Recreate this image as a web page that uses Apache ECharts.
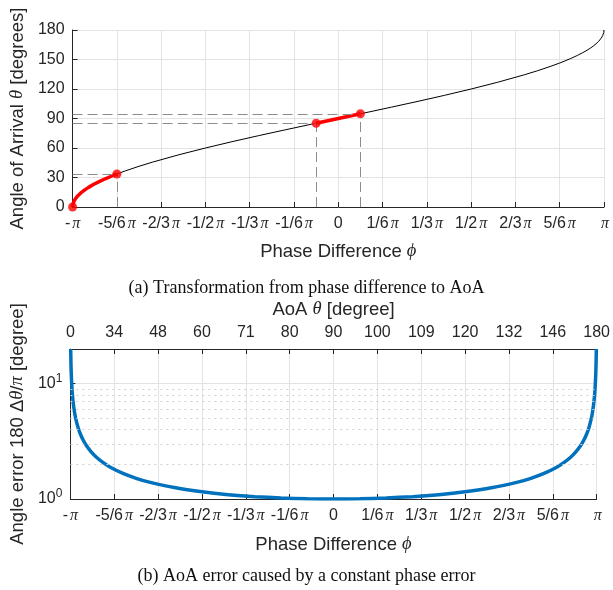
<!DOCTYPE html>
<html>
<head>
<meta charset="utf-8">
<script src="https://cdn.jsdelivr.net/npm/echarts@6/dist/echarts.min.js"></script>
<style>html,body{margin:0;padding:0;background:#fff}#c{width:613px;height:590px}</style>
</head>
<body>
<div id="c"></div>
<script>
// Phase difference samples, in units of pi
const phiOverPi = [-1, -0.999, -0.995, -0.99, -0.98, -0.97, -0.96, -0.95, -0.94, -0.92, -0.9, -0.875, -0.85, -0.8333, -0.8, -0.75, -0.7, -0.6, -0.5, -0.4, -0.3, -0.2, -0.1, 0, 0.1, 0.2, 0.3, 0.4, 0.5, 0.6, 0.7, 0.75, 0.8, 0.8333, 0.85, 0.875, 0.9, 0.92, 0.94, 0.95, 0.96, 0.97, 0.98, 0.99, 0.995, 0.999, 1];
// Angle of arrival (degrees)
const aoaDeg = [0, 2.56, 5.73, 8.11, 11.48, 14.07, 16.26, 18.19, 19.95, 23.07, 25.84, 28.96, 31.79, 33.56, 36.87, 41.41, 45.57, 53.13, 60, 66.42, 72.54, 78.46, 84.26, 90, 95.74, 101.54, 107.46, 113.58, 120, 126.87, 134.43, 138.59, 143.13, 146.44, 148.21, 151.04, 154.16, 156.93, 160.05, 161.81, 163.74, 165.93, 168.52, 171.89, 174.27, 177.44, 180];
// Red highlighted segments in panel (a)
const redLeftPhi = [-1, -0.999, -0.995, -0.99, -0.98, -0.97, -0.96, -0.95, -0.94, -0.92, -0.9, -0.875, -0.85, -0.8333];
const redLeftAoa = [0, 2.56, 5.73, 8.11, 11.48, 14.07, 16.26, 18.19, 19.95, 23.07, 25.84, 28.96, 31.79, 33.56];
const redMidPhi = [-0.0833, 0.0833];
const redMidAoa = [85.22, 94.78];
// Panel (b): error samples
const errPhi = [-0.99875, -0.998, -0.997, -0.995, -0.993, -0.99, -0.985, -0.98, -0.97, -0.96, -0.95, -0.94, -0.92, -0.9, -0.875, -0.85, -0.8, -0.75, -0.7, -0.6, -0.5, -0.4, -0.3, -0.2, -0.1, 0, 0.1, 0.2, 0.3, 0.4, 0.5, 0.6, 0.7, 0.75, 0.8, 0.85, 0.875, 0.9, 0.92, 0.94, 0.95, 0.96, 0.97, 0.98, 0.985, 0.99, 0.993, 0.995, 0.997, 0.998, 0.99875];
const errVal = [20, 15.82, 12.92, 10.01, 8.47, 7.09, 5.80, 5.03, 4.11, 3.57, 3.20, 2.93, 2.55, 2.29, 2.066, 1.898, 1.667, 1.512, 1.400, 1.25, 1.155, 1.091, 1.048, 1.021, 1.005, 1, 1.005, 1.021, 1.048, 1.091, 1.155, 1.25, 1.400, 1.512, 1.667, 1.898, 2.066, 2.29, 2.55, 2.93, 3.20, 3.57, 4.11, 5.03, 5.80, 7.09, 8.47, 10.01, 12.92, 15.82, 20];
// Tick labels
const phaseTickNum = ['-', '-5/6', '-2/3', '-1/2', '-1/3', '-1/6', '0', '1/6', '1/3', '1/2', '2/3', '5/6', ''];
const aoaTickLabels = ['0', '34', '48', '60', '71', '80', '90', '100', '109', '120', '132', '146', '180'];
const minorGrid = [2, 3, 4, 5, 6, 7, 8, 9];

const SANS = '"Liberation Sans", Arial, sans-serif';
const SERIF = '"Liberation Serif", "DejaVu Serif", serif';
const AX = '#262626';
const GRID = '#e3e3e3';
const TF = 16;   // tick font
const NF = 18.5; // axis-name font
const toX = p => p * 6; // axis in units of pi/6

const pairs = (xs, ys) => xs.map((p, i) => [toX(p), ys[i]]);

const phaseFmt = v => {
  const i = Math.round(v) + 6;
  const n = phaseTickNum[i];
  if (n === '0') return '{n|0}';
  if (n === '') return '{p|π}';
  if (n === '-') return '{n|-}{p|π}';
  return '{n|' + n + '}{p|π}';
};
const tickRich = {
  n: { fontFamily: SANS, fontSize: TF, color: AX },
  p: { fontFamily: SERIF, fontStyle: 'italic', fontSize: TF, color: AX, padding: [0, 0, 0, 2] }
};
const nameRich = {
  t: { fontFamily: SANS, fontSize: NF, color: AX },
  g: { fontFamily: SERIF, fontStyle: 'italic', fontSize: NF, color: AX }
};

const redPts = [[redLeftPhi[0], redLeftAoa[0]], [redLeftPhi[redLeftPhi.length - 1], redLeftAoa[redLeftAoa.length - 1]], [redMidPhi[0], redMidAoa[0]], [redMidPhi[1], redMidAoa[1]]];
const guideLines = [];
redPts.slice(1).forEach(([p, a]) => {
  guideLines.push([{ coord: [-6, a] }, { coord: [toX(p), a] }]);
  guideLines.push([{ coord: [toX(p), 0] }, { coord: [toX(p), a] }]);
});

const axLine = { show: true, onZero: false, lineStyle: { color: AX, width: 1 } };
const axTick = { show: true, inside: true, length: 5, lineStyle: { color: AX } };
const capStyle = { fontFamily: SERIF, fontSize: 18, fontWeight: 'normal', color: '#111' };

const chart = echarts.init(document.getElementById('c'), null, { renderer: 'canvas' });
chart.setOption({
  animation: false,
  backgroundColor: '#fff',
  title: [
    { text: '(a) Transformation from phase difference to AoA', left: 'center', top: 274, textStyle: capStyle },
    { text: '(b) AoA error caused by a constant phase error', left: 'center', top: 562, textStyle: capStyle }
  ],
  grid: [
    { left: 71, right: 9, top: 30, height: 177 },
    { left: 67, right: 14, top: 349, height: 150 }
  ],
  xAxis: [
    {
      gridIndex: 0, type: 'value', min: -6, max: 6, interval: 1,
      name: '{t|Phase Difference }{g|ϕ}', nameLocation: 'middle', nameGap: 35,
      nameTextStyle: { rich: nameRich },
      axisLine: axLine, axisTick: axTick,
      axisLabel: { formatter: phaseFmt, rich: tickRich, margin: 9 },
      splitLine: { show: true, lineStyle: { color: GRID, width: 1 } }
    },
    {
      gridIndex: 1, type: 'value', min: -6, max: 6, interval: 1,
      name: '{t|Phase Difference }{g|ϕ}', nameLocation: 'middle', nameGap: 36,
      nameTextStyle: { rich: nameRich },
      axisLine: axLine, axisTick: axTick,
      axisLabel: { formatter: phaseFmt, rich: tickRich, margin: 9 },
      splitLine: { show: true, lineStyle: { color: GRID, width: 1 } }
    },
    {
      gridIndex: 1, type: 'value', position: 'top', min: -6, max: 6, interval: 1,
      name: '{t|AoA }{g|θ}{t| [degree]}', nameLocation: 'middle', nameGap: 30,
      nameTextStyle: { rich: nameRich },
      axisLine: axLine, axisTick: axTick,
      axisLabel: { formatter: v => aoaTickLabels[Math.round(v) + 6], fontFamily: SANS, fontSize: TF, color: AX, margin: 8 },
      splitLine: { show: false }
    }
  ],
  yAxis: [
    {
      gridIndex: 0, type: 'value', min: 0, max: 180, interval: 30,
      name: '{t|Angle of Arrival }{g|θ}{t| [degrees]}', nameLocation: 'middle', nameGap: 37,
      nameTextStyle: { rich: nameRich },
      axisLine: axLine, axisTick: axTick,
      axisLabel: { fontFamily: SANS, fontSize: TF, color: AX, margin: 8 },
      splitLine: { show: true, lineStyle: { color: GRID, width: 1 } }
    },
    {
      gridIndex: 1, type: 'log', logBase: 10, min: 1, max: 20,
      name: '{t|Angle error 180 Δ}{g|θ}{t|/}{g|π}{t| [degree]}', nameLocation: 'middle', nameGap: 36,
      nameTextStyle: { rich: nameRich },
      axisLine: axLine, axisTick: axTick,
      axisLabel: {
        showMaxLabel: false,
        formatter: v => (Math.abs(v - 1) < 1e-6 ? '{b|10}{s|0}' : Math.abs(v - 10) < 1e-6 ? '{b|10}{s|1}' : ''),
        rich: {
          b: { fontFamily: SANS, fontSize: TF, color: AX },
          s: { fontFamily: SANS, fontSize: 12, color: AX, padding: [0, 0, 10, 0] }
        },
        margin: 8
      },
      splitLine: { show: true, lineStyle: { color: GRID, width: 1 } }
    }
  ],
  series: [
    {
      type: 'line', xAxisIndex: 0, yAxisIndex: 0, data: pairs(phiOverPi, aoaDeg),
      showSymbol: false, lineStyle: { color: '#000', width: 1 }, z: 3,
      markLine: {
        silent: true, symbol: 'none', label: { show: false },
        lineStyle: { color: '#8c8c8c', type: [10, 5], width: 1 },
        data: guideLines
      }
    },
    {
      type: 'line', xAxisIndex: 0, yAxisIndex: 0, data: pairs(redLeftPhi, redLeftAoa),
      showSymbol: false, lineStyle: { color: '#ff0000', width: 3.5 }, z: 4
    },
    {
      type: 'line', xAxisIndex: 0, yAxisIndex: 0, data: pairs(redMidPhi, redMidAoa),
      showSymbol: false, lineStyle: { color: '#ff0000', width: 3.5 }, z: 4
    },
    {
      type: 'scatter', xAxisIndex: 0, yAxisIndex: 0, data: redPts.map(([p, a]) => [toX(p), a]),
      symbol: 'circle', symbolSize: 9, itemStyle: { color: '#ff0000' }, z: 5
    },
    {
      type: 'line', xAxisIndex: 1, yAxisIndex: 1, data: pairs(errPhi, errVal),
      showSymbol: false, smooth: 0.2, lineStyle: { color: '#0072BD', width: 3.5 }, z: 4, clip: true,
      markLine: {
        silent: true, symbol: 'none', label: { show: false },
        lineStyle: { color: '#cfcfcf', type: [2, 4], width: 1 },
        data: minorGrid.map(v => ({ yAxis: v }))
      }
    }
  ]
});
</script>
</body>
</html>
